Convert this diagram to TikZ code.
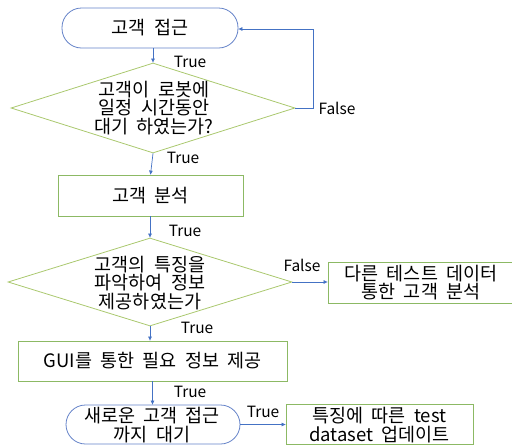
\documentclass[tikz,border=0pt]{standalone}
\usepackage{fontspec}
\setmainfont{Noto Sans CJK KR}[WordSpace=2]
\usetikzlibrary{shapes.geometric,arrows.meta}
\definecolor{lineblue}{RGB}{68,114,196}
\definecolor{termblue}{RGB}{100,130,200}
\definecolor{boxgreen}{RGB}{140,185,100}
\definecolor{diagreen}{RGB}{170,200,110}
\newfontfamily\lblfont{Noto Sans CJK KR}
\tikzset{
  x=1pt,y=-1pt,
  every node/.style={font=\fontsize{18.5}{18.8}\selectfont, inner sep=0pt},
  term/.style={draw=termblue, line width=0.8pt, rounded corners=19.5pt, minimum width=#1},
  box/.style={draw=boxgreen, line width=0.8pt, rectangle},
  dia/.style={draw=diagreen, line width=0.8pt, diamond},
  txt/.style={align=center},
  lbl/.style={font=\lblfont\fontsize{15.5}{17}\selectfont},
  arr/.style={draw=lineblue, line width=0.7pt, -{Triangle[length=4pt,width=3.5pt]}}
}
\begin{document}
\begin{tikzpicture}
\useasboundingbox (0,0) rectangle (512,445);
% nodes
\node[term=176pt, minimum height=40pt] (t1) at (150,28) {};
\node[txt] (t1t) at (t1) {고객 접근};
\node[dia, minimum width=284pt, minimum height=90pt] (d1) at (153,108) {};
\node[txt] (d1t) at (154,108) {고객이 로봇에\\일정 시간동안\\대기 하였는가?};
\node[box, minimum width=185pt, minimum height=41pt] (b1) at (150.5,195.5) {};
\node[txt] (b1t) at (b1) {고객 분석};
\node[dia, minimum width=284pt, minimum height=88pt] (d2) at (150,282) {};
\node[txt] (d2t) at (150,283) {고객의 특징을\\파악하여 정보\\제공하였는가};
\node[box, minimum width=184pt, minimum height=41pt] (b3) at (420,282.5) {};
\node[txt] (b3t) at (421,282.5) {다른 테스트 데이터\\통한 고객 분석};
\node[box, minimum width=269pt, minimum height=40pt] (b2) at (152.5,361) {};
\node[txt] (b2t) at (b2) {GUI를 통한 필요 정보 제공};
\node[term=174pt, minimum height=39pt] (t2) at (153,424.5) {};
\node[txt] (t2t) at (152,425) {새로운 고객 접근\\까지 대기};
\node[box, minimum width=187pt, minimum height=40pt] (b4) at (379.5,424) {};
\node[txt] (b4t) at (379.5,425) {특징에 따른 test\\dataset 업데이트};
% connectors
\draw[arr] (t1.south -| d1.north) -- (d1.north);
\coordinate (c1) at (313,108);
\coordinate (c2) at (313,29);
\draw[arr] (d1.east) -- (c1) -- (c2) -- (t1.east |- c2);
\draw[arr] (d1.south) -- (b1.north);
\draw[arr] (b1.south -| d2.north) -- (d2.north);
\draw[arr] (d2.east) -- (b3.west |- d2.east);
\draw[arr] (d2.south) -- (b2.north -| d2.south);
\draw[arr] (b2.south) -- (t2.north -| b2.south);
\draw[arr] (t2.east) -- (b4.west |- t2.east);
% labels
\node[lbl] (l1) at (190,62) {True};
\node[lbl] (l2) at (337,108) {False};
\node[lbl] (l3) at (183,158) {True};
\node[lbl] (l4) at (185,231) {True};
\node[lbl] (l5) at (302,265) {False};
\node[lbl] (l6) at (197,328) {True};
\node[lbl] (l7) at (190,392) {True};
\node[lbl] (l8) at (263,412) {True};
\end{tikzpicture}
\end{document}
